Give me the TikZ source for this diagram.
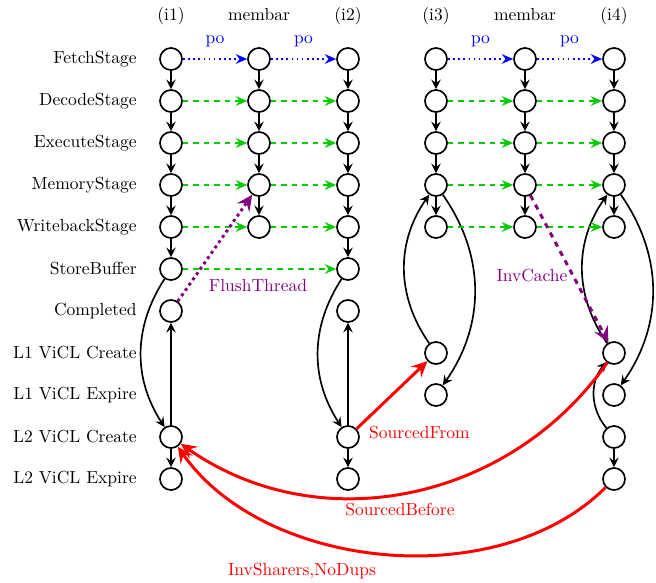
\documentclass[tikz,border=0pt]{standalone}
\usetikzlibrary{arrows.meta}
\begin{document}
\begin{tikzpicture}[x=0.5714pt,y=-0.5714pt,
  ev/.style={circle,draw,line width=0.95pt,minimum size=12.6pt,inner sep=0pt},
  blk/.style={line width=0.95pt,-{Stealth[length=5.5pt,width=5.5pt,inset=2pt]}},
  pol/.style={blue,line width=0.95pt,dotted,-{Stealth[length=6.5pt,width=5.5pt,inset=2.2pt]}},
  grn/.style={green!80!black,line width=0.95pt,dashed,-{Stealth[length=6.5pt,width=5.5pt,inset=2.2pt]}},
  vio/.style={violet,line width=1.7pt,-{Stealth[length=9pt,width=8.5pt,inset=3.3pt]}},
  rd/.style={red,line width=1.7pt,-{Stealth[length=9pt,width=8.5pt,inset=3.3pt]}},
  rowlab/.style={anchor=east,inner sep=0pt},
  collab/.style={anchor=base,inner sep=0pt},
]
\useasboundingbox (0,0) rectangle (656,583);
% row labels
\foreach \t/\y [count=\i] in {FetchStage/59,DecodeStage/101,ExecuteStage/143,MemoryStage/185,WritebackStage/227,StoreBuffer/269,Completed/311,L1 ViCL Create/353,L1 ViCL Expire/395,L2 ViCL Create/437,L2 ViCL Expire/479}
  \node[rowlab] (rl\i) at (137,\y) {\t};
% column labels
\node[collab] (h1) at (171,20) {(i1)};
\node[collab] (h2) at (259,20) {membar};
\node[collab] (h3) at (348,20) {(i2)};
\node[collab] (h4) at (436,20) {(i3)};
\node[collab] (h5) at (525,20) {membar};
\node[collab] (h6) at (614,20) {(i4)};
% nodes
\foreach \r/\y in {0/59,1/101,2/143,3/185,4/227,5/269,6/311,9/437,10/479} {
  \node[ev] (a\r) at (171,\y) {};
  \node[ev] (c\r) at (348,\y) {};
}
\foreach \r/\y in {0/59,1/101,2/143,3/185,4/227} {
  \node[ev] (b\r) at (259,\y) {};
  \node[ev] (e\r) at (525,\y) {};
}
\foreach \r/\y in {0/59,1/101,2/143,3/185,4/227,7/353,8/395} {
  \node[ev] (d\r) at (436,\y) {};
}
\foreach \r/\y in {0/59,1/101,2/143,3/185,4/227,7/353,8/395,9/437,10/479} {
  \node[ev] (f\r) at (614,\y) {};
}
% vertical program-order arrows
\foreach \r [evaluate=\r as \s using int(\r+1)] in {0,1,2,3,4} {
  \draw[blk] (a\r) -- (a\s);
  \draw[blk] (c\r) -- (c\s);
}
\foreach \r [evaluate=\r as \s using int(\r+1)] in {0,1,2,3} {
  \draw[blk] (b\r) -- (b\s);
  \draw[blk] (d\r) -- (d\s);
  \draw[blk] (e\r) -- (e\s);
  \draw[blk] (f\r) -- (f\s);
}
% i1, i2 cache edges
\draw[blk] (a5) to[bend right=33] (a9);
\draw[blk] (a9) -- (a6);
\draw[blk] (a9) -- (a10);
\draw[blk] (c5) to[bend right=33] (c9);
\draw[blk] (c9) -- (c6);
\draw[blk] (c9) -- (c10);
% i3
\draw[blk] (d7) to[bend left=35] (d3);
\draw[blk] (d3) to[bend left=35] (d8);
% i4
\draw[blk] (f7) to[bend left=35] (f3);
\draw[blk] (f3) to[bend left=35] (f8);
\draw[blk] (f9) to[bend left=40] (f7);
\draw[blk] (f9) -- (f10);
% horizontal po
\draw[pol] (a0) -- node[above=3pt] {po} (b0);
\draw[pol] (b0) -- node[above=3pt] {po} (c0);
\draw[pol] (d0) -- node[above=3pt] {po} (e0);
\draw[pol] (e0) -- node[above=3pt] {po} (f0);
% green
\foreach \r in {1,2,3,4} {
  \draw[grn] (a\r) -- (b\r);
  \draw[grn] (b\r) -- (c\r);
  \draw[grn] (d\r) -- (e\r);
  \draw[grn] (e\r) -- (f\r);
}
\draw[grn] (a5) -- (c5);
% purple
\draw[vio,dotted] (a6) -- (b3);
\node[violet] (ft) at (258,286) {FlushThread};
\draw[vio,dashed] (e3) -- (f7);
\node[violet] (ic) at (532,276) {InvCache};
% red
\draw[rd] (c9) -- (d7);
\node[red,anchor=west] (sf) at (363,433) {SourcedFrom};
\draw[rd] (f7) to[out=-125,in=-35] (a9);
\node[red] (sb) at (400,510) {SourcedBefore};
\draw[rd] (f10) to[out=-135,in=-55,looseness=0.9] (a9);
\node[red] (isn) at (302,571) {InvSharers,NoDups};
\end{tikzpicture}
\end{document}
